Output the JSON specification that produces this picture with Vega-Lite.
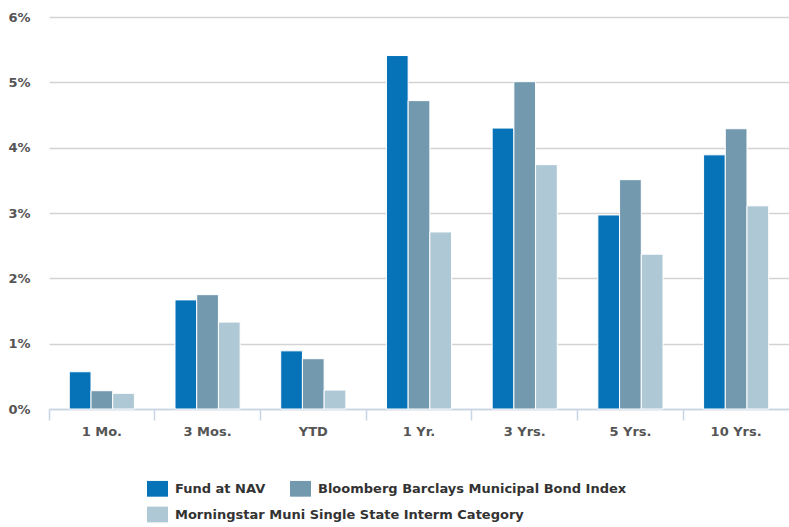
{
  "$schema": "https://vega.github.io/schema/vega-lite/v6.json",
  "width": 740,
  "height": 392,
  "autosize": "none",
  "padding": {"left": 49, "top": 17, "right": 0, "bottom": 118},
  "background": "white",
  "data": {
    "values": [
      {"period": "1 Mo.", "series": "Fund at NAV", "value": 0.57},
      {"period": "1 Mo.", "series": "Bloomberg Barclays Municipal Bond Index", "value": 0.28},
      {"period": "1 Mo.", "series": "Morningstar Muni Single State Interm Category", "value": 0.24},
      {"period": "3 Mos.", "series": "Fund at NAV", "value": 1.67},
      {"period": "3 Mos.", "series": "Bloomberg Barclays Municipal Bond Index", "value": 1.75},
      {"period": "3 Mos.", "series": "Morningstar Muni Single State Interm Category", "value": 1.33},
      {"period": "YTD", "series": "Fund at NAV", "value": 0.89},
      {"period": "YTD", "series": "Bloomberg Barclays Municipal Bond Index", "value": 0.77},
      {"period": "YTD", "series": "Morningstar Muni Single State Interm Category", "value": 0.29},
      {"period": "1 Yr.", "series": "Fund at NAV", "value": 5.41},
      {"period": "1 Yr.", "series": "Bloomberg Barclays Municipal Bond Index", "value": 4.72},
      {"period": "1 Yr.", "series": "Morningstar Muni Single State Interm Category", "value": 2.71},
      {"period": "3 Yrs.", "series": "Fund at NAV", "value": 4.30},
      {"period": "3 Yrs.", "series": "Bloomberg Barclays Municipal Bond Index", "value": 5.01},
      {"period": "3 Yrs.", "series": "Morningstar Muni Single State Interm Category", "value": 3.74},
      {"period": "5 Yrs.", "series": "Fund at NAV", "value": 2.97},
      {"period": "5 Yrs.", "series": "Bloomberg Barclays Municipal Bond Index", "value": 3.51},
      {"period": "5 Yrs.", "series": "Morningstar Muni Single State Interm Category", "value": 2.37},
      {"period": "10 Yrs.", "series": "Fund at NAV", "value": 3.89},
      {"period": "10 Yrs.", "series": "Bloomberg Barclays Municipal Bond Index", "value": 4.29},
      {"period": "10 Yrs.", "series": "Morningstar Muni Single State Interm Category", "value": 3.11}
    ]
  },
  "config": {
    "view": {"stroke": null},
    "font": "DejaVu Sans",
    "legend": {
      "title": null,
      "orient": "none",
      "direction": "horizontal",
      "columnPadding": 24,
      "symbolType": "M-1,-0.75H1V0.75H-1Z",
      "symbolSize": 441,
      "symbolStrokeWidth": 0,
      "symbolOpacity": 1,
      "labelOffset": 7,
      "labelFont": "DejaVu Sans",
      "labelFontSize": 13,
      "labelFontWeight": "bold",
      "labelColor": "#333333",
      "labelLimit": 500
    }
  },
  "encoding": {
    "x": {
      "field": "period",
      "type": "nominal",
      "sort": ["1 Mo.", "3 Mos.", "YTD", "1 Yr.", "3 Yrs.", "5 Yrs.", "10 Yrs."],
      "scale": {"paddingInner": 0, "paddingOuter": 0},
      "axis": {
        "title": null,
        "labelAngle": 0,
        "bandPosition": 0,
        "domainColor": "#C7D5E5",
        "domainWidth": 1.5,
        "tickColor": "#C7D5E5",
        "tickWidth": 1.5,
        "tickSize": 11,
        "labelPadding": 5,
        "labelFont": "DejaVu Sans",
        "labelFontSize": 13,
        "labelFontWeight": "bold",
        "labelColor": "#555555",
        "grid": false
      }
    },
    "xOffset": {
      "field": "series",
      "type": "nominal",
      "scale": {
        "domain": ["Fund at NAV", "Bloomberg Barclays Municipal Bond Index", "Morningstar Muni Single State Interm Category"],
        "paddingInner": 0,
        "paddingOuter": 0.935
      }
    },
    "y": {
      "field": "value",
      "type": "quantitative",
      "scale": {"domain": [0, 6], "nice": false},
      "axis": {
        "title": null,
        "values": [0, 1, 2, 3, 4, 5, 6],
        "labelExpr": "datum.value + '%'",
        "domain": false,
        "ticks": false,
        "labelPadding": 19,
        "labelFont": "DejaVu Sans",
        "labelFontSize": 13,
        "labelFontWeight": "bold",
        "labelColor": "#555555",
        "gridColor": "#D3D3D3",
        "gridWidth": 1.5
      }
    }
  },
  "layer": [
    {
      "transform": [{"filter": "datum.series !== 'Morningstar Muni Single State Interm Category'"}],
      "mark": {"type": "bar", "stroke": "white", "strokeWidth": 1},
      "encoding": {
        "color": {
          "field": "series",
          "type": "nominal",
          "scale": {
            "domain": ["Fund at NAV", "Bloomberg Barclays Municipal Bond Index"],
            "range": ["#0672B8", "#7399AF"]
          },
          "legend": {"legendX": 98, "legendY": 461}
        }
      }
    },
    {
      "transform": [{"filter": "datum.series === 'Morningstar Muni Single State Interm Category'"}],
      "mark": {"type": "bar", "stroke": "white", "strokeWidth": 1},
      "encoding": {
        "color": {
          "field": "series",
          "type": "nominal",
          "scale": {
            "domain": ["Morningstar Muni Single State Interm Category"],
            "range": ["#AFC8D5"]
          },
          "legend": {"legendX": 98, "legendY": 487}
        }
      }
    }
  ],
  "resolve": {"scale": {"color": "independent"}, "legend": {"color": "independent"}}
}
